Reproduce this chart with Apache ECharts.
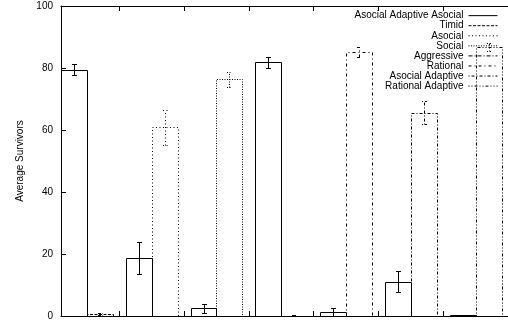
<!DOCTYPE html>
<html>
<head>
<meta charset="utf-8">
<script src="https://cdn.jsdelivr.net/npm/echarts@6/dist/echarts.min.js"></script>
<style>
html,body{margin:0;padding:0;background:#fff;}
#chart{width:508px;height:323px;}
</style>
</head>
<body>
<div id="chart"></div>
<script>
// ---- data ----
const adaptiveName = 'Asocial Adaptive Asocial';
const opponents = ['Timid', 'Asocial', 'Social', 'Aggressive', 'Rational', 'Asocial Adaptive', 'Rational Adaptive'];
const adaptiveValues = [79.5, 18.6, 2.5, 81.8, 1.3, 11.1, 0.2];
const adaptiveErrors = [1.8, 5.2, 1.4, 1.7, 1.4, 3.4, 0.2];
const opponentValues = [0.6, 60.9, 76.3, 0.1, 85.2, 65.6, 86.8];
const opponentErrors = [0.4, 5.6, 2.5, 0.1, 1.7, 3.6, 1.3];
const yTicks = [0, 20, 40, 60, 80, 100];
const groupTicks = [1, 2, 3, 4, 5, 6];
const yTitle = 'Average Survivors';

// ---- styles ----
const FONT = 'Liberation Sans, Arial, Helvetica, sans-serif';
const dashes = {
  'Asocial Adaptive Asocial': null,
  'Timid': [3, 1.5],
  'Asocial': [1, 2.5],
  'Social': [1, 1.5],
  'Aggressive': [4, 2, 1, 2],
  'Rational': [3, 3, 1, 3],
  'Asocial Adaptive': [1, 2, 3, 2],
  'Rational Adaptive': [1, 2, 1, 2, 3, 2]
};
const BAR_W = 0.4;      // bar width in axis units
const CAP = 2.5;        // half width of error bar caps in px

function crisp(v) { return Math.round(v) + 0.5; }

function makeRender(startOffset, dash) {
  return function (params, api) {
    const g = api.value(0), v = api.value(1), e = api.value(2);
    const pBase = api.coord([g + startOffset, 0]);
    const pTop = api.coord([g + startOffset + BAR_W, v]);
    const x0 = crisp(pBase[0]), x1 = crisp(pTop[0]);
    const yb = crisp(pBase[1]), yt = crisp(pTop[1]);
    const cx = crisp((pBase[0] + pTop[0]) / 2);
    const hi = crisp(api.coord([g, v + e])[1]);
    const lo = crisp(api.coord([g, Math.max(0, v - e)])[1]);
    const st = { stroke: '#000', fill: null, lineWidth: 1, lineDash: dash || null };
    return {
      type: 'group',
      children: [
        { type: 'polyline', shape: { points: [[x0, yb], [x0, yt], [x1, yt], [x1, yb]] }, style: st },
        { type: 'line', shape: { x1: cx, y1: lo, x2: cx, y2: hi }, style: st },
        { type: 'line', shape: { x1: cx - CAP, y1: hi, x2: cx + CAP, y2: hi }, style: st },
        { type: 'line', shape: { x1: cx - CAP, y1: lo, x2: cx + CAP, y2: lo }, style: st }
      ]
    };
  };
}

const series = [];
series.push({
  name: adaptiveName,
  type: 'custom',
  renderItem: makeRender(0.1, dashes[adaptiveName]),
  data: adaptiveValues.map((v, i) => [i, v, adaptiveErrors[i]]),
  itemStyle: { color: 'none', borderColor: '#000' },
  silent: true,
  clip: false
});
opponents.forEach((name, i) => {
  series.push({
    name: name,
    type: 'custom',
    renderItem: makeRender(0.5, dashes[name]),
    data: [[i, opponentValues[i], opponentErrors[i]]],
    itemStyle: { color: 'none', borderColor: '#000' },
    silent: true,
    clip: false
  });
});

const legendNames = [adaptiveName].concat(opponents);

const chart = echarts.init(document.getElementById('chart'), null, { renderer: 'canvas' });
chart.setOption({
  animation: false,
  backgroundColor: '#fff',
  textStyle: { fontFamily: FONT },
  grid: { left: 61, right: -9, top: 6, bottom: 7, containLabel: false },
  xAxis: [
    {
      type: 'value', position: 'bottom', min: 0.1, max: 7.0,
      axisLine: { show: true, onZero: false, lineStyle: { color: '#000', width: 1 } },
      axisTick: { show: true, inside: true, length: 5, customValues: groupTicks, lineStyle: { color: '#000' } },
      axisLabel: { show: false },
      splitLine: { show: false }
    },
    {
      type: 'value', position: 'top', min: 0.1, max: 7.0,
      axisLine: { show: true, onZero: false, lineStyle: { color: '#000', width: 1 } },
      axisTick: { show: true, inside: true, length: 5, customValues: groupTicks, lineStyle: { color: '#000' } },
      axisLabel: { show: false },
      splitLine: { show: false }
    }
  ],
  yAxis: {
    type: 'value', min: yTicks[0], max: yTicks[yTicks.length - 1], interval: 20,
    name: yTitle, nameLocation: 'middle', nameRotate: 90, nameGap: 35,
    nameTextStyle: { fontSize: 10, color: '#000', fontFamily: FONT },
    axisLine: { show: true, lineStyle: { color: '#000', width: 1 } },
    axisTick: { show: true, inside: true, length: 5, lineStyle: { color: '#000' } },
    axisLabel: { fontSize: 10, color: '#000', margin: 8, fontFamily: FONT },
    splitLine: { show: false }
  },
  legend: {
    orient: 'vertical', align: 'right', right: 8, top: 8.3, padding: 0,
    itemWidth: 29, itemHeight: 10, itemGap: -4.6,
    icon: 'path://M0,5 L30,5 M0,0 M0,10',
    selectedMode: false,
    textStyle: { fontSize: 10, lineHeight: 10, color: '#000', fontFamily: FONT },
    data: legendNames.map(n => ({
      name: n,
      itemStyle: { color: 'none', borderColor: '#000', borderWidth: 1, borderType: dashes[n] || 'solid' }
    }))
  },
  series: series
});
</script>
</body>
</html>
